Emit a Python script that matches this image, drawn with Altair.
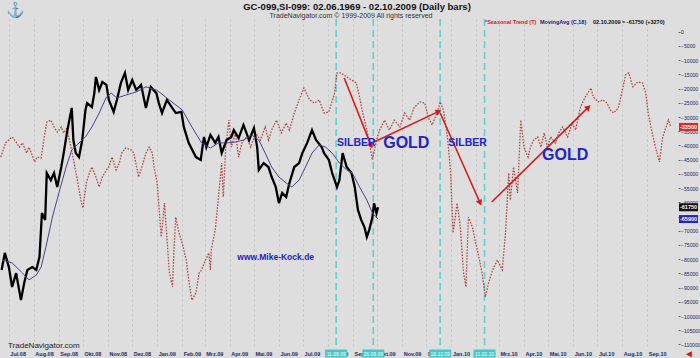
import altair as alt
import pandas as pd

# ---------------- data ----------------
price_dates = [
    "2008-06-22", "2008-06-26", "2008-07-01", "2008-07-05", "2008-07-10", "2008-07-16", "2008-07-20", "2008-07-24",
    "2008-07-30", "2008-08-04", "2008-08-08", "2008-08-11", "2008-08-15", "2008-08-17", "2008-08-22", "2008-08-26",
    "2008-08-30", "2008-09-04", "2008-09-07", "2008-09-11", "2008-09-14", "2008-09-17", "2008-09-19", "2008-09-22",
    "2008-09-26", "2008-09-30", "2008-10-04", "2008-10-06", "2008-10-12", "2008-10-15", "2008-10-17", "2008-10-21",
    "2008-10-25", "2008-10-30", "2008-11-02", "2008-11-08", "2008-11-12", "2008-11-17", "2008-11-22", "2008-11-26",
    "2008-12-01", "2008-12-06", "2008-12-12", "2008-12-18", "2008-12-24", "2008-12-31", "2009-01-03", "2009-01-07",
    "2009-01-13", "2009-01-24", "2009-01-31", "2009-02-03", "2009-02-09", "2009-02-18", "2009-02-24", "2009-02-28",
    "2009-03-03", "2009-03-08", "2009-03-14", "2009-03-18", "2009-03-22", "2009-03-28", "2009-04-03", "2009-04-06",
    "2009-04-12", "2009-04-18", "2009-04-25", "2009-05-01", "2009-05-05", "2009-05-07", "2009-05-13", "2009-05-19",
    "2009-05-23", "2009-05-28", "2009-06-01", "2009-06-05", "2009-06-10", "2009-06-14", "2009-06-20", "2009-06-26",
    "2009-06-30", "2009-07-06", "2009-07-12", "2009-07-17", "2009-07-24", "2009-07-27", "2009-08-02", "2009-08-06",
    "2009-08-12", "2009-08-15", "2009-08-19", "2009-08-24", "2009-08-30", "2009-09-03", "2009-09-07", "2009-09-11",
    "2009-09-15", "2009-09-18", "2009-09-21", "2009-09-25", "2009-09-27", "2009-09-30", "2009-10-02",
]
price_values = [
    -83800, -77800, -82800, -89800, -84900, -94400, -88400, -83800,
    -82800, -83800, -79200, -63800, -66200, -49700, -52200, -49700,
    -54600, -47600, -42700, -35600, -31100, -26800, -38100, -42700,
    -44100, -38100, -27500, -25100, -26500, -21600, -15900, -20500,
    -17700, -18700, -24000, -28200, -24000, -18000, -14500, -20500,
    -17000, -20500, -18700, -26800, -19400, -21600, -25100, -28600,
    -24000, -28600, -28200, -33500, -39100, -44100, -45100, -37000,
    -40600, -36300, -39100, -37000, -42700, -38100, -37000, -34600,
    -37400, -32800, -38100, -33900, -40600, -48600, -46200, -47600,
    -51100, -54600, -60300, -56700, -58100, -53200, -47600, -46200,
    -42700, -39100, -34600, -38100, -40600, -42700, -45100, -49700,
    -54600, -52200, -42700, -47600, -49700, -54600, -62700, -66200,
    -68700, -72200, -69700, -65200, -60300, -63800, -61750,
]

ma_dates = [
    "2008-06-23", "2008-07-05", "2008-07-18", "2008-07-26", "2008-08-04", "2008-08-10", "2008-08-16", "2008-08-24",
    "2008-09-02", "2008-09-10", "2008-09-17", "2008-09-26", "2008-10-04", "2008-10-12", "2008-10-21", "2008-10-30",
    "2008-11-05", "2008-11-12", "2008-11-23", "2008-12-06", "2008-12-18", "2008-12-31", "2009-01-13", "2009-01-16",
    "2009-02-01", "2009-02-13", "2009-02-25", "2009-03-08", "2009-03-18", "2009-03-28", "2009-04-08", "2009-04-18",
    "2009-04-28", "2009-05-07", "2009-05-15", "2009-05-23", "2009-06-01", "2009-06-10", "2009-06-17", "2009-06-26",
    "2009-07-04", "2009-07-12", "2009-07-21", "2009-07-29", "2009-08-06", "2009-08-15", "2009-08-24", "2009-08-31",
    "2009-09-09", "2009-09-18", "2009-09-25", "2009-10-02",
]
ma_values = [
    -80300, -81300, -84900, -87300, -85600, -82800, -75700, -65200,
    -55700, -47600, -41600, -39100, -37000, -33500, -28600, -23000,
    -21600, -23300, -22300, -21200, -19400, -20500, -23300, -24000,
    -27500, -33500, -39100, -40900, -39100, -39100, -38800, -38100,
    -36300, -38100, -42700, -47600, -51100, -53200, -54600, -52200,
    -47600, -42700, -39800, -40600, -42700, -46200, -48600, -49700,
    -54600, -59200, -63800, -65900,
]

seasonal_dates = [
    "2008-06-21", "2008-06-27",
    "2008-07-05", "2008-07-10", "2008-07-14", "2008-07-18", "2008-07-23", "2008-07-26",
    "2008-08-02", "2008-08-05", "2008-08-10", "2008-08-14", "2008-08-17", "2008-08-22", "2008-08-26", "2008-08-30",
    "2008-09-04", "2008-09-07", "2008-09-11", "2008-09-16", "2008-09-20", "2008-09-24", "2008-09-29",
    "2008-10-01", "2008-10-05", "2008-10-09", "2008-10-12", "2008-10-17", "2008-10-21", "2008-10-25", "2008-10-30",
    "2008-11-02", "2008-11-06", "2008-11-11", "2008-11-15", "2008-11-18", "2008-11-23", "2008-11-30",
    "2008-12-03", "2008-12-09", "2008-12-13", "2008-12-18", "2008-12-22", "2008-12-26", "2008-12-28",
    "2009-01-01", "2009-01-06", "2009-01-10", "2009-01-13", "2009-01-16", "2009-01-20", "2009-01-22", "2009-01-24", "2009-01-28",
    "2009-02-01", "2009-02-06", "2009-02-09", "2009-02-13", "2009-02-18", "2009-02-22", "2009-02-25",
    "2009-03-02", "2009-03-06", "2009-03-08", "2009-03-09", "2009-03-14", "2009-03-18", "2009-03-22", "2009-03-24", "2009-03-27", "2009-03-31",
    "2009-04-03", "2009-04-08", "2009-04-12", "2009-04-16", "2009-04-22", "2009-04-27",
    "2009-05-03", "2009-05-09", "2009-05-15", "2009-05-19", "2009-05-23", "2009-05-29",
    "2009-06-04", "2009-06-10", "2009-06-14", "2009-06-20", "2009-06-26",
    "2009-07-02", "2009-07-09", "2009-07-15", "2009-07-21", "2009-07-27",
    "2009-08-02", "2009-08-09", "2009-08-12", "2009-08-17", "2009-08-24", "2009-08-30",
    "2009-09-05", "2009-09-09", "2009-09-13", "2009-09-18", "2009-09-21", "2009-09-25", "2009-09-30",
    "2009-10-04", "2009-10-10", "2009-10-16", "2009-10-22", "2009-10-29",
    "2009-11-04", "2009-11-10", "2009-11-16", "2009-11-23", "2009-11-29",
    "2009-12-03", "2009-12-08", "2009-12-14", "2009-12-18", "2009-12-22", "2009-12-27", "2009-12-31",
    "2010-01-03", "2010-01-08", "2010-01-12", "2010-01-16", "2010-01-19", "2010-01-22", "2010-01-27", "2010-01-31",
    "2010-02-03", "2010-02-08", "2010-02-12", "2010-02-16", "2010-02-21", "2010-02-27",
    "2010-03-05", "2010-03-09", "2010-03-13", "2010-03-15", "2010-03-19", "2010-03-24", "2010-03-28",
    "2010-04-01", "2010-04-06", "2010-04-09", "2010-04-13", "2010-04-18", "2010-04-22", "2010-04-26", "2010-04-30",
    "2010-05-04", "2010-05-10", "2010-05-14", "2010-05-19", "2010-05-25", "2010-05-31",
    "2010-06-04", "2010-06-10", "2010-06-16", "2010-06-23", "2010-06-26",
    "2010-07-02", "2010-07-08", "2010-07-13", "2010-07-17", "2010-07-21", "2010-07-27",
    "2010-08-01", "2010-08-05", "2010-08-09", "2010-08-14", "2010-08-20", "2010-08-26", "2010-08-30",
    "2010-09-02", "2010-09-07", "2010-09-11", "2010-09-16", "2010-09-20", "2010-09-23", "2010-09-27", "2010-09-30",
]
seasonal_values = [
    -44100, -39100,
    -37000, -38800, -40600, -39100, -42700, -40600,
    -45800, -44100, -44400, -37000, -31800, -31100, -33500, -35300,
    -33500, -35600, -33900, -40600, -46200, -52200, -60300,
    -62000, -53200, -49700, -47600, -51100, -54600, -51100, -48600,
    -47600, -44100, -48600, -46200, -42700, -40900, -41600,
    -42700, -51100, -47600, -42700, -40600, -42700, -47600,
    -53200, -72200, -60300, -72200, -84500, -89800, -75700, -65200, -70800,
    -74300, -80300, -87300, -94400, -91900, -84900, -83800,
    -80300, -77800, -83800, -76800, -69700, -58100, -46200, -58100, -40600, -31100,
    -40600, -35600, -44100, -39100, -37000, -40600,
    -35600, -38100, -33500, -38100, -34600, -31100,
    -35600, -32100, -34600, -28600, -24000,
    -19800, -24000, -25100, -24000, -28600,
    -28200, -21600, -14500, -14500, -15900, -17000,
    -18000, -23000, -28600, -34600, -39100, -45100, -38100,
    -34600, -31100, -34600, -31100, -33500,
    -28600, -31100, -26500, -24700, -25100,
    -30000, -32800, -28600, -24700, -27500, -37000, -49700,
    -70800, -60300, -68700, -84900, -89800, -65200, -68700, -74300,
    -77800, -84900, -93300, -88400, -83800, -80300,
    -83800, -70800, -49700, -59200, -47600, -56700, -31100,
    -40600, -44100, -40600, -38100, -37000, -40600, -35600, -40600,
    -37000, -39100, -35600, -33500, -37000, -32100,
    -34600, -26500, -23000, -19800, -23000,
    -24700, -24000, -25100, -27500, -28600, -26800,
    -20500, -15200, -14500, -19400, -17700, -18000, -21600,
    -28600, -35600, -40600, -45800, -37000, -34600, -31100, -33500,
]

# month ticks shown on the time axis (Jul.08 ... Sep.10)
month_ticks = pd.date_range("2008-07-01", "2010-09-01", freq="MS")

marker_dates = ["2009-08-11", "2009-09-26", "2009-12-18", "2010-02-11"]
marker_labels = ["11.08.09", "26.09.09", "18.12.09", "11.02.10"]

arrow_start_dates = ["2009-08-21", "2009-09-27", "2009-12-18", "2010-02-20"]
arrow_start_values = [-16300, -38800, -28600, -59900]
arrow_end_dates = ["2009-09-23", "2009-12-15", "2010-02-05", "2010-06-19"]
arrow_end_values = [-39800, -28200, -59900, -26800]
arrow_angles = [158, 64, 156, 46]

note_texts = ["SILBER", "GOLD", "SILBER", "GOLD"]
note_dates = ["2009-09-05", "2009-11-06", "2010-01-21", "2010-05-22"]
note_values = [-39100, -39100, -39100, -43400]
note_sizes = [10.5, 16, 10.5, 16]

end_names = ["Seasonal Trend", "GC-099,SI-099", "MovingAvg"]
end_values = [seasonal_values[-1], price_values[-1], ma_values[-1]]
end_colors = ["#d42a2a", "#111111", "#2626b8"]

y_ticks = list(range(-110000, 1, 5000))

# ---------------- chart ----------------
W, H = 678, 330
FONT = "Liberation Sans"

xscale = alt.Scale(type="utc",
                   domain=[alt.DateTime(year=2008, month=6, date=20, utc=True),
                           alt.DateTime(year=2010, month=10, date=9, utc=True)])
xaxis = alt.Axis(
    title=None, domain=False, ticks=False, grid=True, gridDash=[2, 3], gridColor="#c4c4c4",
    values=[alt.DateTime(year=d.year, month=d.month, date=1, utc=True) for d in month_ticks],
    labelExpr="['Jan','Feb','Mrz','Apr','Mai','Jun','Jul','Aug','Sep','Okt','Nov','Dez'][utcmonth(datum.value)] + '.' + utcFormat(datum.value, '%y')",
    labelAlign="left", labelBaseline="top", labelPadding=2, labelOffset=1,
    labelFontSize=5.5, labelFontWeight="bold", labelColor="#1c2766",
    labelFlush=False, labelOverlap=False,
)
yscale = alt.Scale(domain=[-111600, 4470], nice=False, zero=False)
yaxis = alt.Axis(
    orient="right", title=None, values=y_ticks, format="d", grid=False, domain=False,
    tickSize=2, tickColor="#666666", labelPadding=0.5, labelFontSize=5.1, labelColor="#1c2766",
    labelFlush=False, labelOverlap=False,
)


def X(field="date"):
    return alt.X(f"{field}:T", scale=xscale, axis=xaxis)


def Y(field="value"):
    return alt.Y(f"{field}:Q", scale=yscale, axis=yaxis)


seasonal_df = pd.DataFrame({"date": seasonal_dates, "value": seasonal_values})
price_df = pd.DataFrame({"date": price_dates, "value": price_values})
ma_df = pd.DataFrame({"date": ma_dates, "value": ma_values})
marker_df = pd.DataFrame({"date": marker_dates, "label": marker_labels})
arrow_df = pd.DataFrame({"date": arrow_start_dates, "value": arrow_start_values,
                         "date2": arrow_end_dates, "value2": arrow_end_values,
                         "angle": arrow_angles})
note_df = pd.DataFrame({"date": note_dates, "value": note_values, "text": note_texts, "size": note_sizes})
end_df = pd.DataFrame({"name": end_names, "value": end_values, "color": end_colors})
end_df["label"] = end_df["value"].astype(int).astype(str)

seasonal = alt.Chart(seasonal_df).mark_line(
    color="#b04848", strokeDash=[1.6, 1.4], strokeWidth=1.3, interpolate="linear"
).encode(x=X(), y=Y())

price = alt.Chart(price_df).mark_line(color="#000000", strokeWidth=2.3).encode(x=X(), y=Y())
ma = alt.Chart(ma_df).mark_line(color="#45458c", strokeWidth=1).encode(x=X(), y=Y())

cyan_rules = alt.Chart(marker_df).mark_rule(
    color="#66d0d0", strokeWidth=1.6, strokeDash=[7, 4]
).encode(x=X())

arrows = alt.Chart(arrow_df).mark_rule(color="#d41c1c", strokeWidth=1.6).encode(
    x=X(), y=Y(), x2="date2:T", y2="value2:Q"
)
heads = alt.Chart(arrow_df).mark_point(
    shape="triangle", filled=True, color="#d41c1c", size=45, opacity=1
).encode(x=X("date2"), y=Y("value2"), angle=alt.Angle("angle:Q", scale=None))

notes = alt.Chart(note_df).mark_text(
    font=FONT, fontWeight="bold", color="#2323c8", align="center", baseline="middle"
).encode(x=X(), y=Y(), text="text:N", size=alt.Size("size:Q", scale=None))

web_df = pd.DataFrame({"date": ["2009-05-28"], "value": [-79200], "text": ["www.Mike-Kock.de"]})
web = alt.Chart(web_df).mark_text(
    font=FONT, fontWeight="bold", fontSize=8.5, color="#2323c8", align="center", baseline="middle"
).encode(x=X(), y=Y(), text="text:N")

end_boxes = alt.Chart(end_df).mark_tick(orient="horizontal", size=19, thickness=8, opacity=1).encode(
    x=alt.value(W + 10.5), y=Y(), color=alt.Color("color:N", scale=None)
)
end_text = alt.Chart(end_df).mark_text(
    font=FONT, fontSize=5.5, fontWeight="bold", color="white", align="center", baseline="middle"
).encode(x=alt.value(W + 10.5), y=Y(), text="label:N")

date_boxes = alt.Chart(marker_df).mark_tick(orient="vertical", size=8, thickness=22, opacity=1,
                                           color="#49c6c6").encode(x=X(), y=alt.value(H + 4.5))
date_text = alt.Chart(marker_df).mark_text(
    font=FONT, fontSize=5, color="white", align="center", baseline="middle"
).encode(x=X(), y=alt.value(H + 4.5), text="label:N")


def label(text, x, y, **kw):
    return alt.Chart(pd.DataFrame({"t": [text]})).mark_text(font=FONT, **kw).encode(
        text="t:N", x=alt.value(x), y=alt.value(y)
    )


title = label("GC-099,SI-099:  02.06.1969 - 02.10.2009  (Daily bars)", 357, -12,
              fontSize=9.5, fontWeight="bold", color="#111111", align="center", baseline="middle")
subtitle = label("TradeNavigator.com © 1999-2009 All rights reserved", 351, -3,
                 fontSize=7, color="#333333", align="center", baseline="middle")
leg1 = label("*Seasonal Trend (T)", 485, 3, fontSize=5.5, fontWeight="bold", color="#cc2222",
             align="left", baseline="middle")
leg2 = label("MovingAvg (C,18)", 540, 3, fontSize=5.5, fontWeight="bold", color="#1a1a80",
             align="left", baseline="middle")
leg3 = label("02.10.2009 = -61750 (+3270)", 593, 3, fontSize=5.5, fontWeight="bold", color="#111111",
             align="left", baseline="middle")
brand = label("TradeNavigator.com", 8, 327, fontSize=8, color="#222222", align="left", baseline="middle")
logo = label("⚓", 15, -9, fontSize=15, color="#e2b81c", align="center", baseline="middle")
red_arrow = label("◄", 689, H + 4.5, fontSize=10, color="#dd1111", align="center", baseline="middle")

chart = alt.layer(
    cyan_rules, seasonal, price, ma, arrows, heads, notes, web,
    end_boxes, end_text, date_boxes, date_text,
    title, subtitle, leg1, leg2, leg3, brand, logo, red_arrow,
).properties(
    width=W, height=H,
    autosize=alt.AutoSizeParams(type="none"),
    padding={"left": 0, "top": 19, "right": 22, "bottom": 9},
    background="#dedede",
).configure_view(
    fill="white", stroke="#b0b0b0", strokeWidth=1
).configure(font=FONT)

chart.save("out.html", embed_options={"renderer": "svg", "actions": False})
